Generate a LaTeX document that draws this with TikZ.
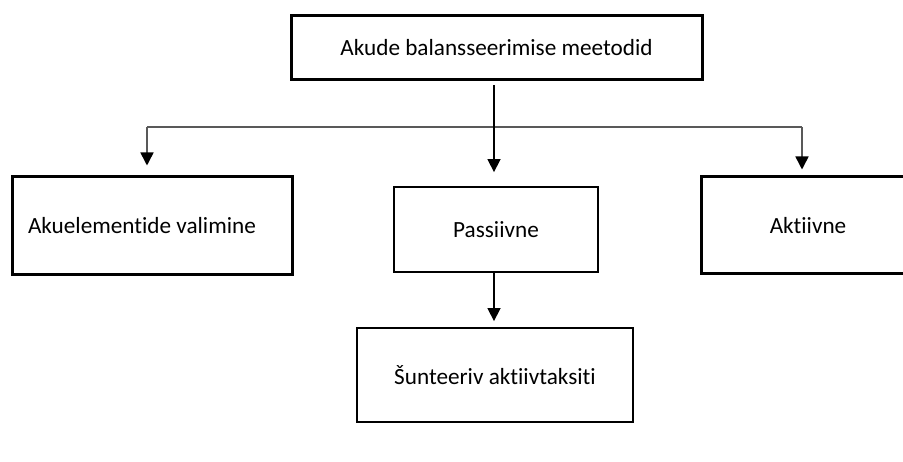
\documentclass[tikz,border=0pt]{standalone}
\usepackage{fontspec}
\setmainfont{Carlito}[Ligatures=NoCommon]
\usetikzlibrary{arrows.meta,positioning}
\tikzset{
    thickbox/.style={
        draw,
        line width=3pt,
        black,
        inner sep=0pt
    },
    % thin frame for the two passive-method boxes
    thinbox/.style={
        draw,
        line width=1.8pt,
        black,
        inner sep=0pt
    },
    downarrow/.style={
        line width=1.6pt,
        black,
        -{Triangle[length=13pt, width=13pt]}
    },
    grayarrow/.style={
        line width=1.6pt,
        black!65,
        -{Triangle[length=13pt, width=13pt, color=black]}
    }
}

\begin{document}
\begin{tikzpicture}[x=1pt, y=1pt, font=\fontsize{23.2}{28}\selectfont]
        \clip (0,0) rectangle (903,462);

        \node[thickbox, minimum width=411pt, minimum height=64pt] (meth) at (496.5,414) {Akude balansseerimise meetodid};
        \node[thickbox, minimum width=280pt, minimum height=98pt, text width=248pt, align=flush left] (valik) at (152,236) {Akuelementide valimine};
        \node[thinbox, minimum width=204pt, minimum height=85pt] (pass) at (496,232.5) {Passiivne};
        \node[thickbox, minimum width=214pt, minimum height=97pt] (akt) at (808,236.5) {Aktiivne};
        \node[thinbox, minimum width=276pt, minimum height=94pt] (shunt) at (495,87) {Šunteeriv aktiivtaksiti};

        \path
        (147,335) coordinate (barL)
        (802,335) coordinate (barR);

        \draw[line width=1.6pt, black!65] (barL) -- (barR);
        \draw[grayarrow, shorten >=10pt] (barL) -- (barL |- valik.north);
        \draw[grayarrow, shorten >=6pt] (barR) -- (barR |- akt.north);

        \draw[downarrow, shorten <=4pt, shorten >=14pt] ([xshift=-2.5pt]meth.south) -- ([xshift=-2pt]pass.north);
        \draw[downarrow, shorten >=6pt] ([xshift=-2pt]pass.south) -- ([xshift=-1pt]shunt.north);
\end{tikzpicture}
\end{document}
